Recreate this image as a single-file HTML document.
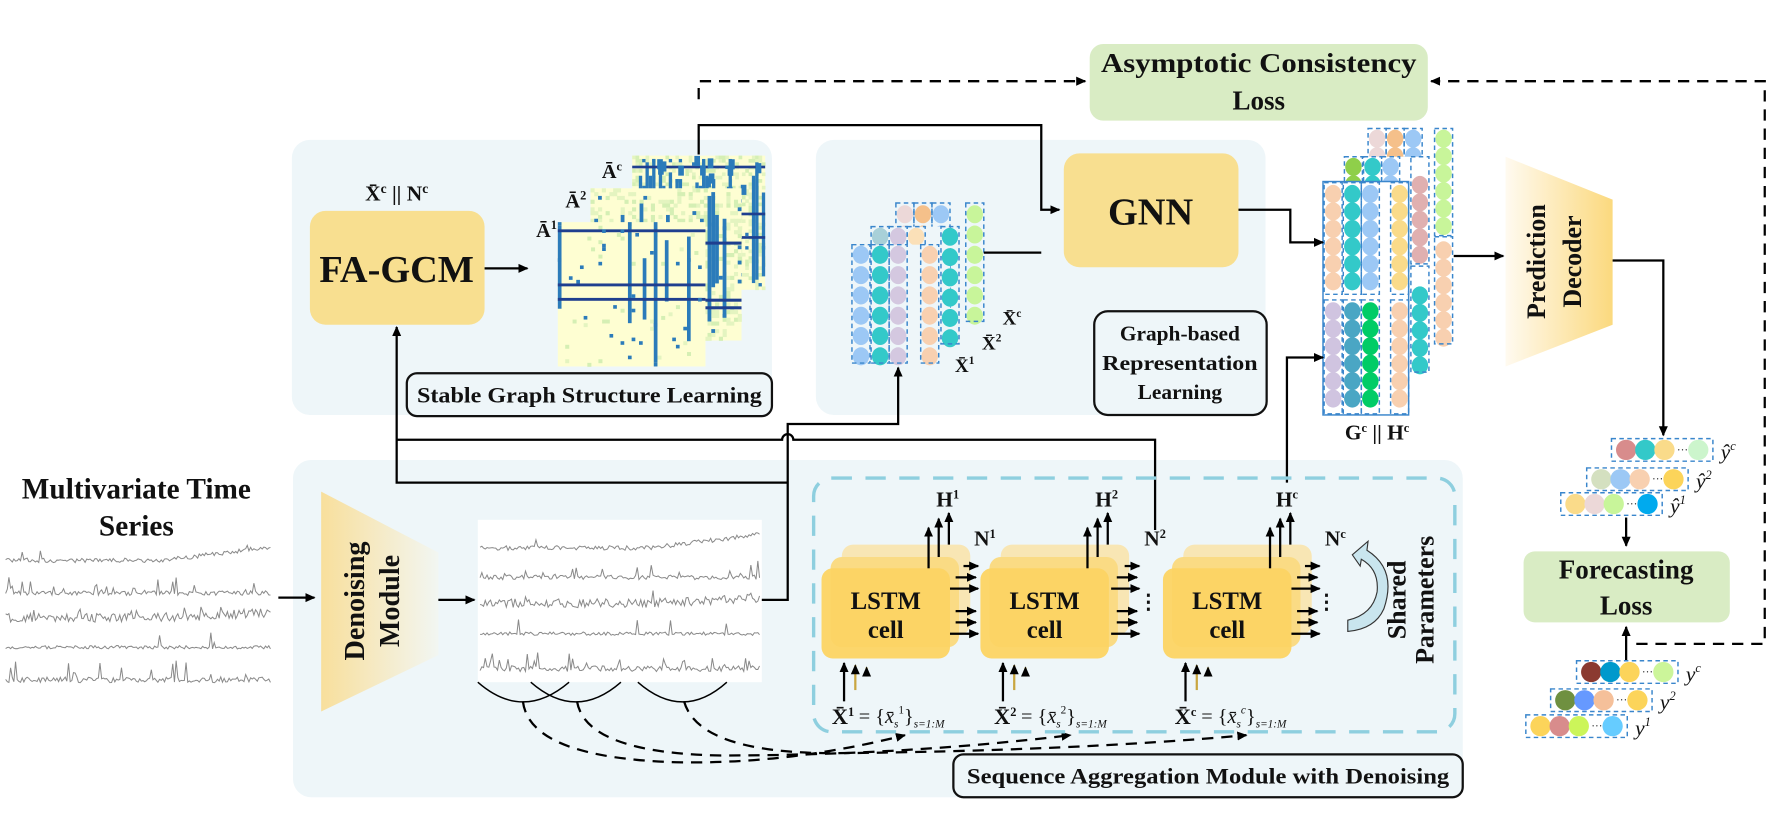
<!DOCTYPE html>
<html><head><meta charset="utf-8">
<style>
html,body{margin:0;padding:0;background:#fff;}
svg{display:block;}
text{font-family:"Liberation Serif",serif;font-weight:bold;fill:#111;}
.it{font-style:italic;font-weight:normal;}
.nm{font-weight:normal;}
</style></head><body>
<svg id="s" xmlns="http://www.w3.org/2000/svg" width="1767" height="822" viewBox="0 0 1568 729" preserveAspectRatio="none">
<defs>
<marker id="ar" markerWidth="10" markerHeight="10" refX="8" refY="5" orient="auto" markerUnits="userSpaceOnUse"><path d="M0,1 L9,5 L0,9 Z" fill="#000"/></marker>
<linearGradient id="gDec" x1="0" x2="1" y1="0" y2="0"><stop offset="0" stop-color="#fffaf0"/><stop offset="1" stop-color="#fbd97e"/></linearGradient>
<linearGradient id="gDen" x1="0" x2="1" y1="0" y2="0"><stop offset="0" stop-color="#f8df9c"/><stop offset="1" stop-color="#f2f6f2"/></linearGradient>
</defs>

<rect x="259" y="124" width="426" height="244" rx="16" fill="#eef6f9"/>
<rect x="724" y="124" width="399" height="244" rx="16" fill="#eef6f9"/>
<rect x="260" y="408" width="1038" height="299" rx="16" fill="#eef6f9"/>

<rect x="967" y="39" width="300" height="68" rx="12" fill="#d9ecc4"/>
<text x="1117" y="64" font-size="24" text-anchor="middle" textLength="280" lengthAdjust="spacingAndGlyphs">Asymptotic Consistency</text>
<text x="1117" y="97" font-size="24" text-anchor="middle">Loss</text>

<text x="352" y="178" font-size="19" text-anchor="middle">X̄<tspan font-size="12" dy="-7">c</tspan><tspan dy="7"> || N</tspan><tspan font-size="12" dy="-7">c</tspan></text>
<rect x="275" y="187" width="155" height="101" rx="14" fill="#f8df90"/>
<text x="352" y="250" font-size="34" text-anchor="middle">FA-GCM</text>
<line x1="430" y1="238" x2="468" y2="238" stroke="#000" stroke-width="2" marker-end="url(#ar)"/>

<g id="mats"></g>
<text x="485" y="210" font-size="18" text-anchor="middle">Ā<tspan font-size="11" dy="-7">1</tspan></text>
<text x="511" y="184" font-size="18" text-anchor="middle">Ā<tspan font-size="11" dy="-7">2</tspan></text>
<text x="543" y="158" font-size="18" text-anchor="middle">Ā<tspan font-size="11" dy="-7">c</tspan></text>

<rect x="361" y="331" width="324" height="38" rx="9" fill="#eef6f9" stroke="#111" stroke-width="2"/>
<text x="523" y="357" font-size="20" text-anchor="middle" textLength="306" lengthAdjust="spacingAndGlyphs">Stable Graph Structure Learning</text>

<rect x="944" y="136" width="155" height="101" rx="14" fill="#f8df90"/>
<text x="1021" y="199" font-size="34" text-anchor="middle">GNN</text>
<rect x="971" y="276" width="153" height="92" rx="12" fill="#eef6f9" stroke="#111" stroke-width="2"/>
<text x="1047" y="302" font-size="19" text-anchor="middle">Graph-based</text>
<text x="1047" y="328" font-size="19" text-anchor="middle" textLength="138" lengthAdjust="spacingAndGlyphs">Representation</text>
<text x="1047" y="354" font-size="19" text-anchor="middle">Learning</text>

<g id="xs"></g>
<text x="856" y="330" font-size="17" text-anchor="middle">X̄<tspan font-size="10" dy="-7">1</tspan></text>
<text x="880" y="310" font-size="17" text-anchor="middle">X̄<tspan font-size="10" dy="-7">2</tspan></text>
<text x="898" y="288" font-size="17" text-anchor="middle">X̄<tspan font-size="10" dy="-7">c</tspan></text>

<g id="gs"></g>
<text x="1222" y="390" font-size="19" text-anchor="middle">G<tspan font-size="11" dy="-7">c</tspan><tspan dy="7"> || H</tspan><tspan font-size="11" dy="-7">c</tspan></text>

<polygon points="1336,139 1431,177 1431,288 1336,325" fill="url(#gDec)"/>
<text transform="translate(1371,232) rotate(-90)" font-size="23" text-anchor="middle">Prediction</text>
<text transform="translate(1403,232) rotate(-90)" font-size="23" text-anchor="middle">Decoder</text>

<g fill="none" stroke="#000" stroke-width="2">
<path d="M620,137 V111 H924 V186 H940" marker-end="url(#ar)"/>
<path d="M873,224 H924"/>
<path d="M1099,186 H1145 V215 H1174" marker-end="url(#ar)"/>
<path d="M1142,428 V317 H1174" marker-end="url(#ar)"/>
<path d="M1290,227 H1334" marker-end="url(#ar)"/>
<path d="M1431,231 H1476 V386" marker-end="url(#ar)"/>
<path d="M1443,459 V484" marker-end="url(#ar)"/>
<path d="M1443,588 V556" marker-end="url(#ar)"/>
</g>
<g fill="none" stroke="#000" stroke-width="2" stroke-dasharray="10,7">
<path d="M620,88 V72 H963" marker-end="url(#ar)"/>
<path d="M1452,571 H1566 V72 H1270" marker-end="url(#ar)"/>
</g>

<text x="121" y="442" font-size="26" text-anchor="middle">Multivariate Time</text>
<text x="121" y="475" font-size="26" text-anchor="middle">Series</text>
<g id="ts1"></g>
<line x1="247" y1="530" x2="279" y2="530" stroke="#000" stroke-width="2" marker-end="url(#ar)"/>
<polygon points="285,436 389,490 389,581 285,631" fill="url(#gDen)"/>
<text transform="translate(323,533) rotate(-90)" font-size="25" text-anchor="middle">Denoising</text>
<text transform="translate(354,533) rotate(-90)" font-size="25" text-anchor="middle">Module</text>
<line x1="389" y1="532" x2="421" y2="532" stroke="#000" stroke-width="2" marker-end="url(#ar)"/>
<rect x="424" y="461" width="252" height="144" fill="#fff"/>
<g id="ts2"></g>

<g fill="none" stroke="#000" stroke-width="1.3">
<path d="M424,605 Q464,640 505,605"/>
<path d="M471,605 Q511,640 551,605"/>
<path d="M566,605 Q606,640 645,605"/>
</g>
<g fill="none" stroke="#000" stroke-width="2" stroke-dasharray="10,7">
<path d="M464,622 Q470,672 600,676 Q700,678 803,652" marker-end="url(#ar)"/>
<path d="M512,622 Q520,668 640,670 Q800,670 950,652" marker-end="url(#ar)"/>
<path d="M607,622 Q620,668 740,668 Q950,666 1106,652" marker-end="url(#ar)"/>
</g>

<g fill="none" stroke="#000" stroke-width="2">
<path d="M676,532 H699 V376 H797 V326" marker-end="url(#ar)"/>
<path d="M699,428 H352 V290" marker-end="url(#ar)"/>
<path d="M352,390 H694 A5,5 0 0 1 704,390 H1025 V470"/>
</g>

<rect x="722" y="424" width="569" height="225" rx="16" fill="none" stroke="#8ecfdf" stroke-width="3" stroke-dasharray="18,12"/>
<g id="lstm"></g>

<text x="1247" y="532" font-size="23" text-anchor="middle" transform="rotate(-90 1247 532)">Shared</text>
<text x="1272" y="532" font-size="23" text-anchor="middle" transform="rotate(-90 1272 532)">Parameters</text>
<path d="M1200,492 L1214,480 L1213,488 Q1240,505 1228,540 Q1220,558 1196,560 L1196,550 Q1218,545 1222,525 Q1224,505 1208,496 L1207,502 Z" fill="#c9e5ee" stroke="#333" stroke-width="1"/>

<text x="748" y="642" font-size="20" text-anchor="middle">X̄<tspan font-size="11" dy="-7">1</tspan></text>
<text x="892" y="642" font-size="20" text-anchor="middle">X̄<tspan font-size="11" dy="-7">2</tspan></text>
<text x="1052" y="642" font-size="20" text-anchor="middle">X̄<tspan font-size="11" dy="-7">c</tspan></text>
<text x="762" y="641" font-size="18" class="nm">= {<tspan class="it">x̄</tspan><tspan font-size="10" class="it" dy="4">s</tspan><tspan font-size="10" class="nm" dy="-12">1</tspan><tspan dy="8">}</tspan><tspan font-size="10" class="it" dy="4">s=1:M</tspan></text>
<text x="906" y="641" font-size="18" class="nm">= {<tspan class="it">x̄</tspan><tspan font-size="10" class="it" dy="4">s</tspan><tspan font-size="10" class="nm" dy="-12">2</tspan><tspan dy="8">}</tspan><tspan font-size="10" class="it" dy="4">s=1:M</tspan></text>
<text x="1066" y="641" font-size="18" class="nm">= {<tspan class="it">x̄</tspan><tspan font-size="10" class="it" dy="4">s</tspan><tspan font-size="10" class="it" dy="-12">c</tspan><tspan dy="8">}</tspan><tspan font-size="10" class="it" dy="4">s=1:M</tspan></text>

<rect x="846" y="669" width="452" height="38" rx="9" fill="#eef6f9" stroke="#111" stroke-width="2"/>
<text x="1072" y="695" font-size="20" text-anchor="middle" textLength="428" lengthAdjust="spacingAndGlyphs">Sequence Aggregation Module with Denoising</text>

<rect x="1352" y="489" width="183" height="63" rx="10" fill="#d9ecc4"/>
<text x="1443" y="513" font-size="24" text-anchor="middle">Forecasting</text>
<text x="1443" y="545" font-size="24" text-anchor="middle">Loss</text>
<g id="outs"></g>
</svg>
<script>
(function(){
var NS="http://www.w3.org/2000/svg";
function el(p,t,a){var e=document.createElementNS(NS,t);for(var k in a)e.setAttribute(k,a[k]);p.appendChild(e);return e;}
var seed=7;function rnd(){seed=(seed*16807)%2147483647;return (seed-1)/2147483646;}
var $=function(id){return document.getElementById(id);};

var M=$("mats");
function mat(x,y,w,h,dense,green){
  el(M,"rect",{x:x,y:y,width:w,height:h,fill:"#fefed2"});
  var n=40,cw=w/n,ch=h/n;
  for(var i=0;i<n;i++){for(var j=0;j<n;j++){if(rnd()<green)el(M,"rect",{x:x+j*cw,y:y+i*ch,width:cw+.3,height:ch+.3,fill:rnd()<.5?"#d5efb4":"#e4f4c0"});}}
  for(var c=0;c<n;c++){ if(rnd()<dense){var y0=Math.floor(rnd()*n*0.3),len=Math.floor(n*(0.4+rnd()*0.6));
    el(M,"rect",{x:x+c*cw,y:y+y0*ch,width:cw,height:Math.min(len,n-y0)*ch,fill:"#2b7bba"});}}
  for(var k=0;k<3;k++){var r=Math.floor(rnd()*n*0.8);el(M,"rect",{x:x,y:y+r*ch,width:w,height:ch*0.8,fill:"#1f3f8f"});}
  for(var k=0;k<30;k++){el(M,"rect",{x:x+Math.floor(rnd()*n)*cw,y:y+Math.floor(rnd()*n)*ch,width:cw,height:ch,fill:"#2b7bba"});}
}
mat(561,138,118,119,0.3,0.35);
for(var k=0;k<14;k++)el(M,"rect",{x:561+rnd()*110,y:138+rnd()*30,width:5,height:9,fill:"#2b7bba"});
mat(524,167,134,135,0.22,0.3);
mat(495,197,131,128,0.25,0.02);

function col(g,x,y0,n,step,color){
  for(var i=0;i<n;i++)el(g,"ellipse",{cx:x,cy:y0+i*step,rx:7.3,ry:8,fill:color});
}
function frame(g,x,y,w,h){el(g,"rect",{x:x,y:y,width:w,height:h,fill:"none",stroke:"#3a86cc","stroke-width":1.3,"stroke-dasharray":"4,3"});}
var X=$("xs");
el(X,"rect",{x:795,y:180,width:78,height:105,fill:"#eef6f9"});
[["#ecd8d8",803],["#f5c08a",819],["#9cc8f5",835]].forEach(function(c){col(X,c[1],190,6,18,c[0]);frame(X,c[1]-8,180,16,105);});
col(X,865,190,6,18,"#c8f59a");frame(X,857,180,16,105);
el(X,"rect",{x:773,y:201,width:70,height:104,fill:"#eef6f9"});
[["#a8d0d8",781],["#d4c8e0",797],["#fbe0b8",813]].forEach(function(c){col(X,c[1],210,6,18,c[0]);frame(X,c[1]-8,201,16,104);});
col(X,843,210,6,18,"#33c9c9");frame(X,835,201,16,104);
el(X,"rect",{x:756,y:217,width:78,height:105,fill:"#eef6f9"});
[["#9cc8f5",764],["#33c9c9",781],["#d4c8e0",797],["#f8d0b0",825]].forEach(function(c){col(X,c[1],226,6,18,c[0]);frame(X,c[1]-8,217,16,105);});

var G=$("gs");
el(G,"rect",{x:1213,y:114,width:76,height:191,fill:"#fff"});
[["#ecd8d8",1222],["#f5c08a",1238],["#9cc8f5",1254]].forEach(function(c){col(G,c[1],123,12,15.5,c[0]);frame(G,c[1]-8,114,16,191);});
col(G,1281,123,6,15.5,"#c8f59a");col(G,1281,222,6,15.5,"#f8d0b0");frame(G,1273,114,16,95);frame(G,1273,210,16,95);
el(G,"rect",{x:1193,y:139,width:76,height:191,fill:"#fff"});
[["#8fcf4a",1201],["#33c9c9",1218],["#9cc8f5",1234]].forEach(function(c){col(G,c[1],148,12,15.5,c[0]);frame(G,c[1]-8,139,16,191);});
col(G,1260,164,5,15.5,"#e0b0b0");col(G,1260,262,5,15.5,"#33c9c9");frame(G,1252,139,16,95);frame(G,1252,236,16,94);
el(G,"rect",{x:1174,y:161,width:76,height:207,fill:"#fff"});
col(G,1183,172,6,15.5,"#f8d0b0");col(G,1200,172,6,15.5,"#33c9c9");col(G,1216,172,6,15.5,"#9cc8f5");col(G,1242,172,6,15.5,"#fadb8a");
col(G,1183,276,6,15.5,"#d0c4e0");col(G,1200,276,6,15.5,"#4aa6c4");col(G,1216,276,6,15.5,"#00cc66");col(G,1242,276,6,15.5,"#f8d0b0");
[1183,1200,1216,1242].forEach(function(x){frame(G,x-8,162,16,99);frame(G,x-8,266,16,101);});
el(G,"rect",{x:1174,y:161,width:76,height:207,fill:"none",stroke:"#3a86cc","stroke-width":1.3});

function series(g,x0,x1,ys,spiky){
  ys.forEach(function(yc,idx){
    var d="",n=160,amp=spiky[idx];
    for(var i=0;i<=n;i++){var x=x0+(x1-x0)*i/n;var v=(rnd()-.5)*amp[0];if(rnd()<amp[1])v-=amp[2]*rnd();
      var trend=amp[3]?amp[3]*Math.max(0,(i/n-0.6)):0;
      d+=(i?"L":"M")+x.toFixed(1)+","+(yc+v-trend).toFixed(1);}
    el(g,"path",{d:d,fill:"none",stroke:"#8a8a8a","stroke-width":0.9});
  });
}
var P=[[4,0.02,8,30],[4,0.12,14,0],[8,0.08,8,12],[3,0.02,14,0],[5,0.15,16,0]];
series($("ts1"),5,240,[497,526,548,574,603],P);
series($("ts2"),426,674,[486,512,535,562,593],P);

var L=$("lstm");
[729,870,1032].forEach(function(x,ci){
  el(L,"rect",{x:x+18,y:483,width:114,height:80,rx:10,fill:"#f8e6b4"});
  el(L,"rect",{x:x+8,y:494,width:114,height:80,rx:10,fill:"#fadb84"});
  el(L,"rect",{x:x,y:504,width:114,height:80,rx:10,fill:"#fcd463","fill-opacity":0.95});
  el(L,"text",{x:x+57,y:540,"font-size":22,"text-anchor":"middle"}).textContent="LSTM";
  el(L,"text",{x:x+57,y:566,"font-size":22,"text-anchor":"middle"}).textContent="cell";
  [[95,504,468],[104,494,460],[113,483,455]].forEach(function(a){
    el(L,"line",{x1:x+a[0],y1:a[1],x2:x+a[0],y2:a[2],stroke:"#000","stroke-width":2,"marker-end":"url(#ar)"});});
  [[20,622,588],[30,612,590],[40,600,592]].forEach(function(a,k){
    el(L,"line",{x1:x+a[0],y1:a[1],x2:x+a[0],y2:a[2],stroke:k?"#c9a640":"#000","stroke-width":2,"marker-end":"url(#ar)"});});
});
[["H","1",841],["H","2",982],["H","c",1142]].forEach(function(h){var t=el(L,"text",{x:h[2],y:449,"font-size":19,"text-anchor":"middle"});t.innerHTML=h[0]+'<tspan font-size="11" dy="-7">'+h[1]+'</tspan>';});
[["1",874],["2",1025],["c",1185]].forEach(function(h){var t=el(L,"text",{x:h[1],y:484,"font-size":19,"text-anchor":"middle"});t.innerHTML='N<tspan font-size="11" dy="-7">'+h[0]+'</tspan>';});
[843,986,1146].forEach(function(x){
  [[502,12,27],[512,5,25],[522,0,27],[542,5,25],[552,5,25],[562,0,27]].forEach(function(a){
    el(L,"line",{x1:x+a[1],y1:a[0],x2:x+a[2]-2,y2:a[0],stroke:"#000","stroke-width":2,"marker-end":"url(#ar)"});});
});
el(L,"text",{x:1010,y:540,"font-size":18}).textContent="⋮";
el(L,"text",{x:1168,y:540,"font-size":18}).textContent="⋮";

var O=$("outs");
function row(x,y,cols,sup,hat){
  el(O,"rect",{x:x,y:y,width:90,height:20,fill:"#fff",stroke:"#3a86cc","stroke-width":1.3,"stroke-dasharray":"4,3"});
  [0,1,2].forEach(function(i){el(O,"circle",{cx:x+13+i*17,cy:y+10,r:9,fill:cols[i]});});
  el(O,"text",{x:x+58,y:y+13,"font-size":10,"class":"nm"}).textContent="···";
  el(O,"circle",{cx:x+77,cy:y+10,r:9,fill:cols[3]});
  var t=el(O,"text",{x:x+97,y:y+18,"font-size":19,"class":"it"});t.innerHTML=(hat?"ŷ":"y")+'<tspan font-size="11" dy="-8">'+sup+'</tspan>';
}
row(1430,389,["#d88c8c","#33c9c9","#fadb8a","#ccf5cc"],"c",1);
row(1408,415,["#d4e0c0","#9cc8f5","#f8d0b0","#fcd45a"],"2",1);
row(1385,437,["#fadb8a","#ecd8d8","#c8f59a","#00aaee"],"1",1);
row(1399,586,["#8b3a30","#0099cc","#fcd45a","#ccf59a"],"c",0);
row(1376,611,["#6f9040","#6699ff","#f5c09a","#fcd45a"],"2",0);
row(1354,634,["#fcd45a","#d88c8c","#ccf55a","#66ccff"],"1",0);
})();
</script>
</body></html>
